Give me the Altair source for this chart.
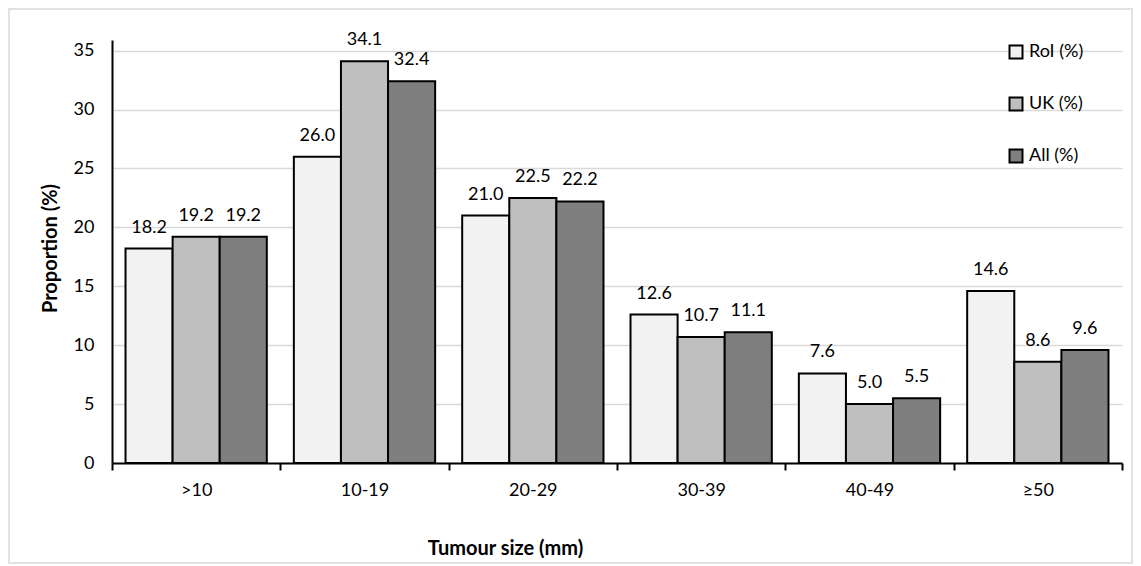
import altair as alt
import pandas as pd

categories = [">10", "10-19", "20-29", "30-39", "40-49", "≥50"]
series = ["RoI (%)", "UK (%)", "All (%)"]
roi = [18.2, 26.0, 21.0, 12.6, 7.6, 14.6]
uk = [19.2, 34.1, 22.5, 10.7, 5.0, 8.6]
all_ = [19.2, 32.4, 22.2, 11.1, 5.5, 9.6]
colors = ["#f2f2f2", "#bfbfbf", "#7f7f7f"]
y_ticks = [0, 5, 10, 15, 20, 25, 30, 35]

rows = []
for s, vals in zip(series, [roi, uk, all_]):
    for c, v in zip(categories, vals):
        rows.append({"size": c, "series": s, "value": v})
df = pd.DataFrame(rows)

W, H = 1010, 423
FONT = "Lato"

x_enc = alt.X(
    "size:N",
    sort=categories,
    scale=alt.Scale(paddingInner=0, paddingOuter=0),
    axis=alt.Axis(
        title="Tumour size (mm)",
        tickBand="extent",
        tickSize=7,
        tickWidth=2,
        tickColor="black",
        domainColor="black",
        domainWidth=2,
        labelAngle=0,
        labelFontSize=18,
        labelPadding=11,
        labelColor="#000000",
        titleFontSize=20,
        titleFontWeight="bold",
        titleX=393,
        titleY=85,
        titleAlign="center",
        titleBaseline="middle",
        grid=False,
    ),
)
xoff = alt.XOffset("series:N", sort=series,
                   scale=alt.Scale(paddingInner=0, paddingOuter=0.287))
y_enc = alt.Y(
    "value:Q",
    scale=alt.Scale(domain=[0, 35.9], nice=False),
    axis=alt.Axis(
        title="Proportion (%)",
        values=y_ticks,
        ticks=False,
        labelPadding=18,
        labelFontSize=18,
        labelColor="#000000",
        domainColor="black",
        domainWidth=2,
        gridColor="#d9d9d9",
        gridWidth=1.5,
        titleFontSize=20,
        titleFontWeight="bold",
        titleX=-62,
        titleY=208,
        titleAlign="center",
        titleBaseline="middle",
    ),
)

bars = alt.Chart(df).mark_bar(stroke="black", strokeWidth=2).encode(
    x=x_enc,
    xOffset=xoff,
    y=y_enc,
    color=alt.Color(
        "series:N",
        sort=series,
        scale=alt.Scale(domain=series, range=colors),
        legend=alt.Legend(
            title=None,
            orient="none",
            legendX=895,
            legendY=3,
            symbolType="square",
            symbolSize=169,
            symbolStrokeColor="black",
            symbolStrokeWidth=2,
            labelFontSize=18,
            labelOffset=4,
            rowPadding=30,
            padding=0,
            labelColor="#000000",
        ),
    ),
)

labels = alt.Chart(df).mark_text(
    fontSize=18, baseline="alphabetic", dy=-16, color="#000000", font=FONT
).encode(
    x=alt.X("size:N", sort=categories),
    xOffset=alt.XOffset("series:N", sort=series),
    y="value:Q",
    text=alt.Text("value:Q", format=".1f"),
)

frame = alt.Chart(pd.DataFrame({"f": [0]})).mark_rect(
    fillOpacity=0, stroke="#d9d9d9", strokeWidth=1.5
).encode(
    x=alt.value(-103),
    x2=alt.value(W + 10),
    y=alt.value(-31),
    y2=alt.value(H + 100),
)

chart = (
    alt.layer(frame, bars, labels)
    .properties(
        width=W,
        height=H,
        autosize=alt.AutoSizeParams(type="none"),
        padding={"left": 104, "top": 32, "right": 11, "bottom": 102},
    )
    .configure(font=FONT)
    .configure_view(stroke=None)
    .configure_axis(labelFont=FONT, titleFont=FONT, titleColor="#000000")
    .configure_legend(labelFont=FONT)
)

chart.save("out.html", embed_options={"renderer": "svg", "actions": False})
